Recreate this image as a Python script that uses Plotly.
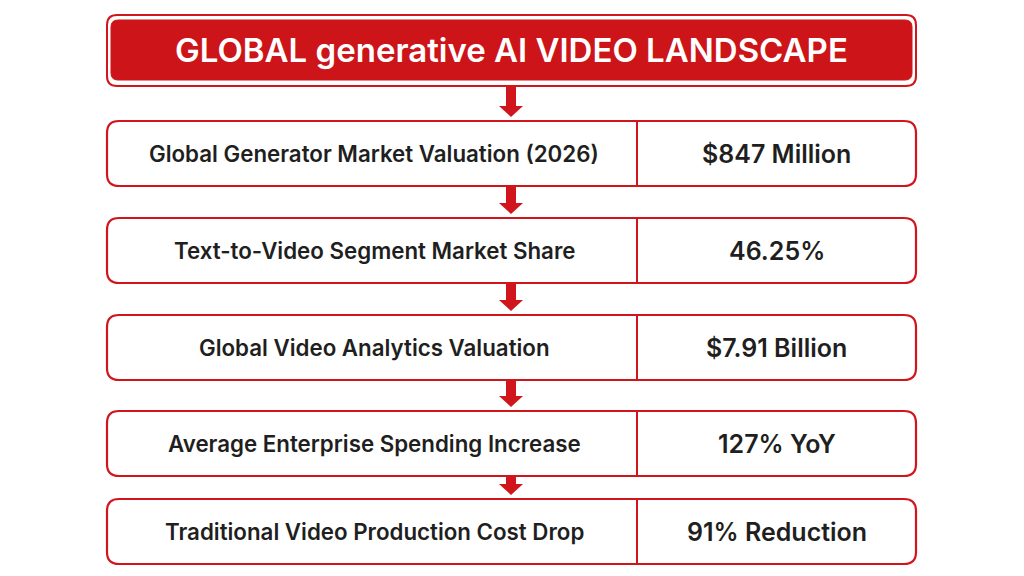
import plotly.graph_objects as go

title_text = "GLOBAL generative AI VIDEO LANDSCAPE"
labels = [
    "Global Generator Market Valuation (2026)",
    "Text-to-Video Segment Market Share",
    "Global Video Analytics Valuation",
    "Average Enterprise Spending Increase",
    "Traditional Video Production Cost Drop",
]
values = ["$847 Million", "46.25%", "$7.91 Billion", "127% YoY", "91% Reduction"]

RED = "#d0161c"
DARK = "#1f1f22"
FONT = "Inter, Roboto, Open Sans, sans-serif"

# layout in pixel units (y grows downward)
X0, X1, XDIV = 107, 916, 637
row_tops = [121, 218, 315, 411, 499]
ROW_H = 65
PAD = 8  # page body margin, so coordinates match screen pixels


def rounded(x0, y0, x1, y1, r):
    return (f"M{x0+r},{y0} L{x1-r},{y0} Q{x1},{y0} {x1},{y0+r} "
            f"L{x1},{y1-r} Q{x1},{y1} {x1-r},{y1} L{x0+r},{y1} "
            f"Q{x0},{y1} {x0},{y1-r} L{x0},{y0+r} Q{x0},{y0} {x0+r},{y0} Z")


shapes = []
annotations = []

# title box: outline + filled inner box
shapes.append(dict(type="path", path=rounded(X0, 15, X1, 86, 10),
                   line=dict(color=RED, width=2), fillcolor="white"))
shapes.append(dict(type="path", path=rounded(X0 + 4, 20, X1 - 4, 80, 7),
                   line=dict(color=RED, width=1), fillcolor="#cc1419"))
annotations.append(dict(x=(X0 + X1) / 2, y=50, text=title_text,
                        showarrow=False, xref="x", yref="y",
                        font=dict(family=FONT, size=33, color="white", weight=600)))

prev_bottom = 86
for top, lab, val in zip(row_tops, labels, values):
    bot = top + ROW_H
    # arrow from previous box
    xc = 511
    head = top - 15
    shapes.append(dict(type="rect", x0=xc - 5, x1=xc + 5, y0=prev_bottom, y1=head,
                       line=dict(width=0), fillcolor=RED))
    shapes.append(dict(type="path",
                       path=f"M{xc-12},{head} L{xc+12},{head} L{xc},{top-4} Z",
                       line=dict(width=0), fillcolor=RED))
    shapes.append(dict(type="path", path=rounded(X0, top, X1, bot, 12),
                       line=dict(color=RED, width=2.2), fillcolor="white"))
    shapes.append(dict(type="line", x0=XDIV, x1=XDIV, y0=top, y1=bot,
                       line=dict(color=RED, width=2)))
    annotations.append(dict(x=(X0 + XDIV) / 2 + 2, y=(top + bot) / 2, text=lab,
                            showarrow=False, xref="x", yref="y",
                            font=dict(family=FONT, size=22.3, color=DARK, weight=600)))
    annotations.append(dict(x=(XDIV + X1) / 2, y=(top + bot) / 2, text=val,
                            showarrow=False, xref="x", yref="y",
                            font=dict(family=FONT, size=25, color=DARK, weight=600)))
    prev_bottom = bot

fig = go.Figure()
fig.update_layout(
    width=1024, height=576,
    margin=dict(l=0, r=0, t=0, b=0),
    paper_bgcolor="white", plot_bgcolor="white",
    xaxis=dict(range=[PAD, 1024 + PAD], visible=False, fixedrange=True),
    yaxis=dict(range=[576 + PAD, PAD], visible=False, fixedrange=True),
    shapes=shapes, annotations=annotations,
    showlegend=False,
)
fig.write_html("out.html")
